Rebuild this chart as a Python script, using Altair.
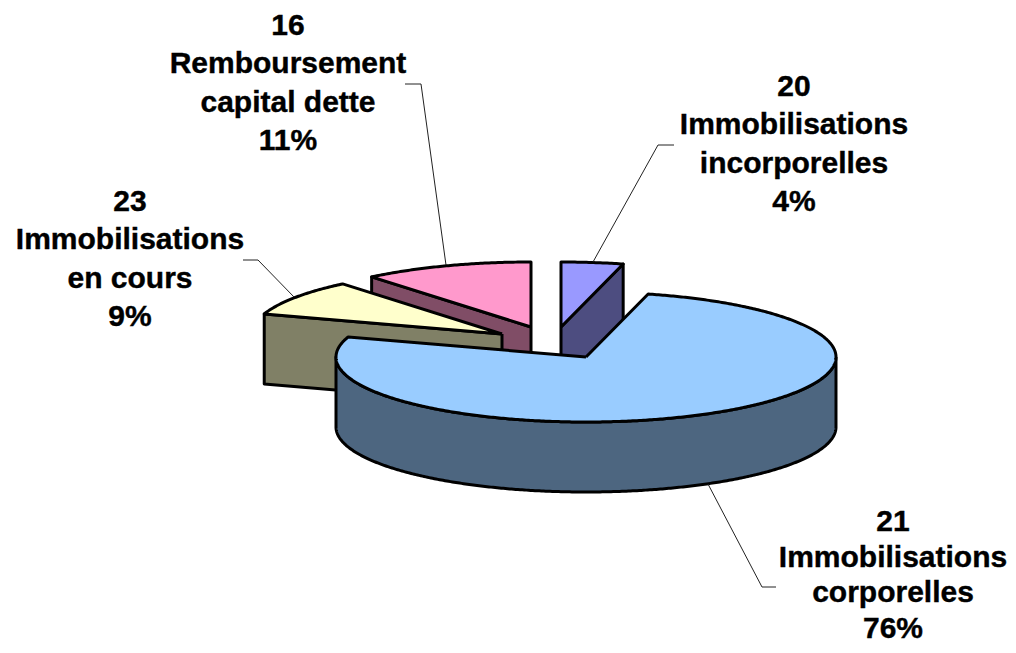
import numpy as np
import pandas as pd
import altair as alt

# --- data ---
codes = ["20", "21", "23", "16"]
names = [["Immobilisations", "incorporelles"], ["Immobilisations", "corporelles"],
         ["Immobilisations", "en cours"], ["Remboursement", "capital dette"]]
shares = [4, 76, 9, 11]

top_colors = ["#9999FF", "#99CCFF", "#FFFFCC", "#FF99CC"]
side_colors = ["#4D4D80", "#4D6680", "#808066", "#804D66"]

# --- layout (page pixels) ---
apex_x = [561, 586, 502, 531]
apex_y = [327, 357, 334, 327]
rx, ry, depth = 250, 65, 70
label_x = [794, 893, 130, 288]
label_base = [96, 531, 211, 35]
line_steps = [38.3, 35.7, 38.3, 38.3]
leader_x = [[674, 658, 593], [776, 762, 708], [243, 258, 294], [405, 421, 446]]
leader_y = [[145, 145, 262], [587, 587, 484], [260, 260, 297], [84, 84, 265]]

X = alt.X("x:Q", axis=None, scale=alt.Scale(domain=[8, 1008], nice=False, zero=False))
Y = alt.Y("y:Q", axis=None, scale=alt.Scale(domain=[645, 8], nice=False, zero=False))


def rim(i, a0, a1, dy=0.0):
    t = np.radians(np.linspace(a0, a1, max(2, int(abs(a1 - a0) * 2))))
    return list(zip(apex_x[i] + rx * np.sin(t), apex_y[i] - ry * np.cos(t) + dy))


def poly(points, fill, sw=3.0):
    pts = list(points) + [points[0]]
    df = pd.DataFrame({"x": [p[0] for p in pts], "y": [p[1] for p in pts], "i": range(len(pts))})
    return alt.Chart(df).mark_line(fill=fill, stroke="black", strokeWidth=sw,
                                   strokeJoin="round", clip=False).encode(x=X, y=Y, order="i:Q")


edges = np.cumsum([0] + shares) * 3.6
layers = []


def slice_parts(i, face_angle=None, wall=None):
    a0, a1 = edges[i], edges[i + 1]
    A = (apex_x[i], apex_y[i])
    out = []
    if face_angle is not None:
        P = rim(i, face_angle, face_angle + 1)[0]
        out.append(poly([A, P, (P[0], P[1] + depth), (A[0], A[1] + depth)], side_colors[i]))
    if wall is not None:
        out.append(poly(rim(i, wall[0], wall[1]) + rim(i, wall[1], wall[0], depth), side_colors[i]))
    out.append(poly([A] + rim(i, a0, a1), top_colors[i]))
    return out


# back to front: pink, yellow, purple, blue
layers += slice_parts(3, face_angle=edges[3])
layers += slice_parts(2, face_angle=edges[2])
layers += slice_parts(0, face_angle=edges[1])
layers += slice_parts(1, wall=(90, 270))

# leader lines
for lx, ly in zip(leader_x, leader_y):
    df = pd.DataFrame({"x": lx, "y": ly, "i": range(len(lx))})
    layers.append(alt.Chart(df).mark_line(color="#222222", strokeWidth=1, clip=False)
                  .encode(x=X, y=Y, order="i:Q"))

# labels
rows = []
for i, code in enumerate(codes):
    lines = [code] + names[i] + [f"{shares[i]}%"]
    for k, t in enumerate(lines):
        rows.append({"x": label_x[i], "y": label_base[i] + k * line_steps[i], "t": t})
layers.append(alt.Chart(pd.DataFrame(rows)).mark_text(
    font="Liberation Sans", fontWeight="bold", fontSize=30, color="black",
    stroke="black", strokeWidth=0.4,
    align="center", baseline="alphabetic", clip=False).encode(x=X, y=Y, text="t:N"))

chart = alt.layer(*layers).properties(
    width=1000, height=637, padding=0, autosize=alt.AutoSizeParams(type="none")
).configure_view(stroke=None)

chart.save("out.html", embed_options={"renderer": "svg", "actions": False})
